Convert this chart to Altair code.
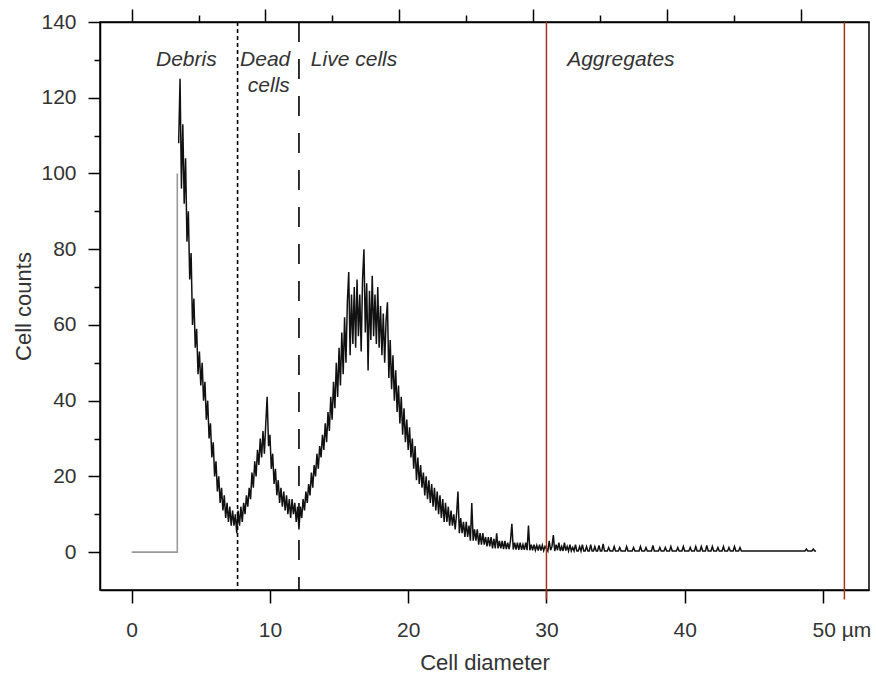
import altair as alt
import pandas as pd

# ---------------- data ----------------
gray_x = [0.0, 3.3, 3.3]
gray_y = [0, 0, 100]

main_start = 3.4
main_step = 0.1
main_counts = [
    108, 125, 96, 113, 92, 104, 82, 90, 72, 79,      # 3.4 - 4.3
    60, 67, 54, 59, 47, 53, 44, 50, 40, 45,          # 4.4 - 5.3
    35, 40, 30, 34, 25, 29, 20, 24, 16, 20,          # 5.4 - 6.3
    13, 17, 11, 15, 9, 13, 8, 12, 7, 11,             # 6.4 - 7.3
    7, 10, 5, 11, 7, 12, 8, 13, 10, 15,              # 7.4 - 8.3
    12, 17, 14, 21, 17, 24, 20, 27, 23, 30,          # 8.4 - 9.3
    25, 32, 26, 34, 41, 28, 31, 22, 26, 18,          # 9.4 - 10.3
    22, 15, 19, 13, 17, 12, 16, 11, 15, 10,          # 10.4 - 11.3
    14, 9, 14, 10, 13, 8, 12, 6, 12, 9,              # 11.4 - 12.3
    14, 11, 16, 13, 18, 15, 21, 17, 23, 20,          # 12.4 - 13.3
    26, 22, 28, 25, 31, 27, 34, 29, 37, 32,          # 13.4 - 14.3
    41, 35, 45, 38, 50, 41, 54, 44, 58, 47,          # 14.4 - 15.3
    62, 50, 66, 74, 52, 68, 55, 70, 54, 72,          # 15.4 - 16.3
    57, 68, 53, 72, 80, 58, 71, 48, 69, 56,          # 16.4 - 17.3
    73, 57, 68, 55, 70, 54, 65, 52, 63, 50,          # 17.4 - 18.3
    61, 66, 46, 56, 43, 52, 40, 48, 37, 44,          # 18.4 - 19.3
    34, 41, 31, 38, 29, 35, 27, 33, 25, 30,          # 19.4 - 20.3
    22, 28, 19, 25, 18, 23, 17, 21, 15, 20,          # 20.4 - 21.3
    14, 19, 13, 18, 12, 17, 11, 16, 10, 15,          # 21.4 - 22.3
    9, 14, 8, 13, 8, 12, 7, 11, 7, 10,               # 22.4 - 23.3
    6, 10, 16, 5, 9, 5, 8, 4, 8, 4,                  # 23.4 - 24.3
    7, 3, 13, 3, 6, 3, 6, 2, 5, 2,                   # 24.4 - 25.3
    5, 2, 4, 1.5, 4, 1.5, 4, 1, 3.5, 1,              # 25.4 - 26.3
    5, 1, 3, 1, 3, 0.8, 3, 0.8, 2.5, 0.8,            # 26.4 - 27.3
    3, 7.5, 0.7, 2.5, 0.7, 2.5, 0.6, 2.5, 0.6, 2,    # 27.4 - 28.3
    0.6, 2.5, 0.5, 7, 0.5, 2, 0.5, 2, 0.5, 1.8,      # 28.4 - 29.3
    0.4, 2, 0.4, 1.8, 0.4, 1.5,                      # 29.4 - 29.9
]

tail_start = 30.0
tail_step = 0.1
tail_counts = [
    1, 0.3, 3, 0.5, 1.5, 4.5, 0.3, 2, 0.5, 2.5,                       # 30
    0.3, 1.5, 0.3, 2.5, 0.4, 1.5, 0.3, 2, 0.3, 1.2,                   # 31
    0.3, 2, 0.3, 0.3, 1.5, 0.3, 2, 0.3, 0.3, 1.5,                     # 32
    0.3, 0.3, 2, 0.3, 0.3, 1.5, 0.3, 0.3, 1.8, 0.3,                   # 33
    0.3, 2.2, 0.3, 0.3, 0.3, 1.2, 0.3, 0.3, 0.3, 1.5,                 # 34
    0.3, 0.3, 0.3, 1.2, 0.3, 0.3, 0.3, 0.3, 1.5, 0.3,                 # 35
    0.3, 0.3, 0.3, 1.2, 0.3, 0.3, 0.3, 0.3, 1.5, 0.3,                 # 36
    0.3, 0.3, 1.2, 0.3, 0.3, 0.3, 0.3, 1.8, 0.3, 0.3,                 # 37
    0.3, 0.3, 1.2, 0.3, 0.3, 0.3, 1.2, 0.3, 0.3, 0.3,                 # 38
    1.5, 0.3, 0.3, 0.3, 0.3, 1.2, 0.3, 0.3, 0.3, 1.5,                 # 39
    0.3, 0.3, 0.3, 0.3, 1.2, 0.3, 0.3, 0.3, 1.5, 0.3,                 # 40
    0.3, 0.3, 1.5, 0.3, 0.3, 0.3, 1.8, 0.3, 0.3, 0.3,                 # 41
    1.5, 0.3, 0.3, 0.3, 1.2, 0.3, 0.3, 0.3, 1.5, 0.3,                 # 42
    0.3, 0.3, 1.2, 0.3, 0.3, 0.3, 1.5, 0.3, 0.3, 0.3,                 # 43
    1.2, 0.3, 0.3, 0.3, 0.3, 0.3, 0.3, 0.3, 0.3, 0.3,                 # 44
    0.3, 0.3, 0.3, 0.3, 0.3, 0.3, 0.3, 0.3, 0.3, 0.3,                 # 45
    0.3, 0.3, 0.3, 0.3, 0.3, 0.3, 0.3, 0.3, 0.3, 0.3,                 # 46
    0.3, 0.3, 0.3, 0.3, 0.3, 0.3, 0.3, 0.3, 0.3, 0.3,                 # 47
    0.3, 0.3, 0.3, 0.3, 0.3, 0.3, 0.3, 0.3, 0.8, 0.3,                 # 48
    0.3, 0.3, 0.3, 0.8, 0.3, 0.3,                                     # 49.0 - 49.5
]

x_ticks = [0, 10, 20, 30, 40, 50]
y_ticks = [0, 10, 20, 30, 40, 50, 60, 70, 80, 90, 100, 110, 120, 130, 140]
top_ticks = [0, 4.84, 9.68, 14.52, 19.36, 24.2, 29.04, 33.88, 38.72, 43.56, 48.4]
top_major = [0, 9.68, 19.36, 29.04, 38.72, 48.4]

gate_dotted = [7.66]
gate_dashed = [12.1]
gate_red = [30.0, 51.55]

label_text = ["Debris", "Dead", "cells", "Live cells", "Aggregates"]
label_x = [1.76, 7.84, 8.4, 12.96, 31.5]
label_y = [130, 130, 123, 130, 130]

# ---------------- tables ----------------
diam = [round(main_start + i * main_step, 2) for i in range(len(main_counts))] + \
       [round(tail_start + i * tail_step, 2) for i in range(len(tail_counts))]
counts = main_counts + tail_counts

df_black = pd.DataFrame({"d": diam, "c": counts, "o": list(range(len(diam)))})
df_gray = pd.DataFrame({"d": gray_x, "c": gray_y, "o": list(range(len(gray_x)))})
df_dot = pd.DataFrame({"d": gate_dotted})
df_dash = pd.DataFrame({"d": gate_dashed})
df_red = pd.DataFrame({"d": gate_red, "top": [140, 140], "bot": [-12.5, -12.5]})
df_lab = pd.DataFrame({"d": label_x, "c": label_y, "t": label_text})

XDOM = [-2.29, 53.33]
YDOM = [-10, 140]
xs = alt.Scale(domain=XDOM, nice=False, zero=False)
ys = alt.Scale(domain=YDOM, nice=False, zero=False)

x_axis = alt.Axis(
    orient="bottom", values=x_ticks, title="Cell diameter",
    labelExpr="datum.value === 50 ? '50 µm' : datum.label",
    labelAlign={"condition": {"test": "datum.value === 50", "value": "left"}, "value": "center"},
    labelOffset={"condition": {"test": "datum.value === 50", "value": -11}, "value": 0},
    tickSize=13, labelPadding=16, titlePadding=12,
)
y_axis = alt.Axis(
    orient="left", values=y_ticks, title="Cell counts",
    labelExpr="datum.value % 20 === 0 ? datum.label : ''",
    tickSize={"condition": {"test": "datum.value % 20 === 0", "value": 12}, "value": 6},
    labelPadding=12, titlePadding=5,
)
top_axis = alt.Axis(
    orient="top", values=top_ticks, labels=False, title=None,
    tickSize={"condition": {"test": "indexof(%s, datum.value) >= 0" % str(top_major), "value": 13}, "value": 7},
)

gray = alt.Chart(df_gray).mark_line(color="#9a9a9a", strokeWidth=1.6).encode(
    x=alt.X("d:Q", scale=xs, axis=None),
    y=alt.Y("c:Q", scale=ys, axis=None),
    order="o:Q",
)
black = alt.Chart(df_black).mark_line(color="#111111", strokeWidth=1.5).encode(
    x=alt.X("d:Q", scale=xs, axis=x_axis),
    y=alt.Y("c:Q", scale=ys, axis=y_axis),
    order="o:Q",
)
dotted = alt.Chart(df_dot).mark_rule(color="black", strokeWidth=1.6, strokeDash=[4, 3]).encode(
    x=alt.X("d:Q", scale=xs, axis=top_axis)
)
dashed = alt.Chart(df_dash).mark_rule(color="black", strokeWidth=1.6, strokeDash=[20, 17]).encode(
    x=alt.X("d:Q", scale=xs, axis=None)
)
red = alt.Chart(df_red).mark_rule(color="#a3341c", strokeWidth=1.5, clip=False).encode(
    x=alt.X("d:Q", scale=xs, axis=None),
    y=alt.Y("top:Q", scale=ys, axis=None),
    y2="bot:Q",
)
labels = alt.Chart(df_lab).mark_text(
    align="left", baseline="middle", fontStyle="italic", fontSize=21,
    font="Liberation Sans", color="#333333",
).encode(
    x=alt.X("d:Q", scale=xs, axis=None),
    y=alt.Y("c:Q", scale=ys, axis=None),
    text="t:N",
)

chart = alt.layer(gray, black, dotted, dashed, red, labels).resolve_axis(
    x="independent", y="independent"
).properties(
    width=769, height=568,
    autosize=alt.AutoSizeParams(type="none"),
    padding={"left": 100, "top": 22, "right": 7, "bottom": 90},
    background="white",
).configure_view(
    stroke="black", strokeWidth=1.5
).configure_axis(
    grid=False,
    domainColor="black", domainWidth=1.5,
    tickColor="black", tickWidth=1.5,
    labelFont="Liberation Sans", labelFontSize=21, labelColor="#333333",
    titleFont="Liberation Sans", titleFontSize=22, titleColor="#333333",
    titleFontWeight="normal",
)

chart.save("out.html", embed_options={"renderer": "svg", "actions": False})
